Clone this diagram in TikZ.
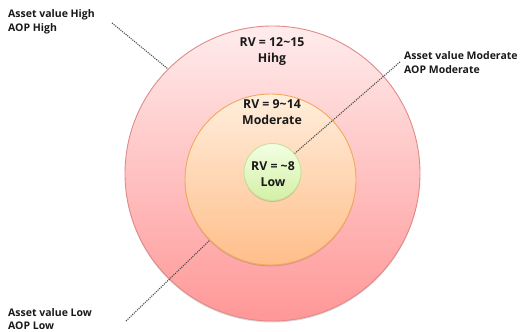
\documentclass[tikz,border=0pt]{standalone}
\usepackage{fontspec}
\setmainfont{Open Sans}
\usetikzlibrary{shadows}
\definecolor{outerline}{HTML}{E08A8A}
\definecolor{outertop}{HTML}{FFECEC}
\definecolor{outerbot}{HTML}{FF9797}
\definecolor{midline}{HTML}{F2A85E}
\definecolor{midtop}{HTML}{FFEEDC}
\definecolor{midbot}{HTML}{FFBE8A}
\definecolor{inline}{HTML}{C6E296}
\definecolor{intop}{HTML}{F3FFE4}
\definecolor{inbot}{HTML}{D3F0A6}
\tikzset{
  ring/.style={circle, inner sep=0pt, line width=0.9pt,
    drop shadow={shadow xshift=0pt, shadow yshift=-1.5pt, opacity=0.25, fill=black!60}},
  ringtext/.style={font=\fontsize{12.3}{16}\selectfont\bfseries, align=center, text=black!90},
  label/.style={font=\fontsize{10.5}{13.5}\selectfont\bfseries, align=left, anchor=west, inner sep=0pt, text=black!90},
  leader/.style={dash pattern=on 1.1pt off 1.1pt, line width=1.1pt, black!70}
}
\begin{document}
\begin{tikzpicture}[x=1pt, y=-1pt]
\useasboundingbox (0,0) rectangle (520,332);
\node[ring, minimum size=295pt, draw=outerline, top color=outertop, bottom color=outerbot] (outer) at (272.5,173.5) {};
\node[ring, minimum size=171pt, draw=midline, top color=midtop, bottom color=midbot] (mid) at (270.5,179.5) {};
\node[ring, minimum size=57pt, draw=inline, top color=intop, bottom color=inbot] (inner) at (272.5,172) {};

\node[ringtext] (t1) at (272,52) {RV = 12\textasciitilde15\\Hihg};
\node[ringtext] (t2) at (272,112.5) {RV = 9\textasciitilde14\\Moderate};
\node[ringtext] (t3) at (273,174) {RV = \textasciitilde8\\Low};

\node[label] (lh) at (8,22) {Asset value High\\AOP High};
\node[label] (lm) at (404,62.5) {Asset value Moderate\\AOP Moderate};
\node[label] (ll) at (8,319) {Asset value Low\\AOP Low};

\coordinate (hs) at (112,23);
\coordinate (ms) at (400,62);
\coordinate (ls) at (126,321);
\draw[leader] (hs) -- (outer.135);
\draw[leader] (ms) -- (inner.40);
\draw[leader] (ls) -- (mid.225);
\end{tikzpicture}
\end{document}
